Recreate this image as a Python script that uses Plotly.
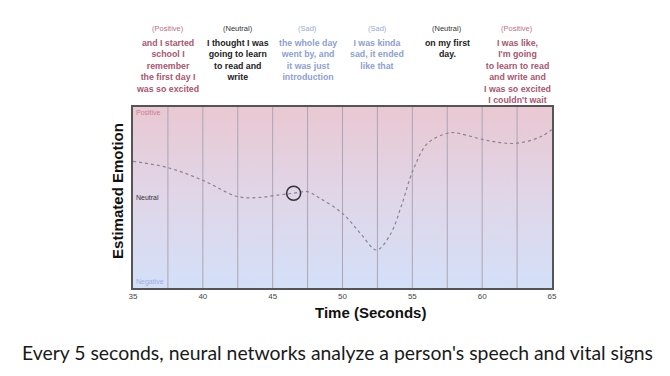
import plotly.graph_objects as go

# Curve data (seconds, estimated emotion: -1 negative .. 0 neutral .. 1 positive)
time_s = [35.0, 37.5, 40.0, 42.5, 44.0, 45.5, 46.5, 47.5, 48.4, 50.0, 51.3, 52.45,
          53.45, 54.2, 55.05, 56.1, 57.5, 58.0, 60.0, 61.35, 62.5, 64.2, 65.4]
emotion = [0.40, 0.33, 0.19, 0.01, 0.0, 0.03, 0.047, 0.064, -0.01, -0.175, -0.40, -0.58,
           -0.40, -0.10, 0.30, 0.60, 0.71, 0.717, 0.643, 0.606, 0.60, 0.672, 0.80]

highlight_time = [46.5]
highlight_emotion = [0.047]

# Speech segments
segment_centers = [37.5, 42.5, 47.5, 52.5, 57.5, 62.5]
segment_moods = ["Positive", "Neutral", "Sad", "Sad", "Neutral", "Positive"]
segment_texts = [
    "and I started<br>school I<br>remember<br>the first day I<br>was so excited",
    "I thought I was<br>going to learn<br>to read and<br>write",
    "the whole day<br>went by, and<br>it was just<br>introduction",
    "I was kinda<br>sad, it ended<br>like that",
    "on my first<br>day.",
    "I was like,<br>I'm going<br>to learn to read<br>and write and<br>I was so excited<br>I couldn't wait",
]
mood_colors = {"Positive": "#a9566f", "Neutral": "#222222", "Sad": "#8e9fd2"}
mood_label_colors = {"Positive": "#c0707f", "Neutral": "#333333", "Sad": "#9aaad8"}

x_ticks = [35, 40, 45, 50, 55, 60, 65]
grid_times = [37.5, 40, 42.5, 45, 47.5, 50, 52.5, 55, 57.5, 60, 62.5]

level_labels = ["Positive", "Neutral", "Negative"]
level_values = [1, 0, -1]
level_colors = ["#d07a93", "#333333", "#9fb0dd"]

x_min, x_max = 35, 65
y_min, y_max = -1, 1

fig = go.Figure()

# gradient background
fig.add_trace(go.Scatter(
    x=[x_min, x_max, x_max, x_min, x_min], y=[y_min, y_min, y_max, y_max, y_min],
    mode="lines", line=dict(width=0), fill="toself",
    fillgradient=dict(type="vertical", colorscale=[[0, "#d3e0f8"], [0.5, "#e0d6e8"], [1, "#e9c8d2"]]),
    hoverinfo="skip", showlegend=False,
))

# grid lines
for g in grid_times:
    fig.add_trace(go.Scatter(x=[g, g], y=[y_min, y_max], mode="lines",
                             line=dict(color="#aca4b4", width=1), hoverinfo="skip", showlegend=False))

# curve
n = len(time_s)
fig.add_trace(go.Scatter(
    x=time_s, y=emotion, mode="lines+markers",
    line=dict(color="#8a8292", width=1.2, dash="dot", shape="spline", smoothing=1.0),
    marker=dict(symbol="arrow", angleref="previous", size=[0] * (n - 1) + [7],
                color="#555555"),
    cliponaxis=False, showlegend=False,
))

# highlight circle
fig.add_trace(go.Scatter(
    x=highlight_time, y=highlight_emotion, mode="markers",
    marker=dict(symbol="circle-open", size=14, line=dict(color="#333333", width=1.6), color="#333333"),
    showlegend=False,
))

annotations = []
for c, mood, txt in zip(segment_centers, segment_moods, segment_texts):
    annotations.append(dict(x=c, xref="x", y=1.431, yref="paper", text="(" + mood + ")",
                            showarrow=False, font=dict(family="Liberation Sans", size=7.5,
                                                       color=mood_label_colors[mood]),
                            xanchor="center", yanchor="middle"))
    annotations.append(dict(x=c, xref="x", y=1.392, yref="paper", text="<b>" + txt + "</b>",
                            showarrow=False, align="center",
                            font=dict(family="Liberation Sans", size=8.8, color=mood_colors[mood]),
                            xanchor="center", yanchor="top"))

for lab, v, col in zip(level_labels, level_values, level_colors):
    ya = {1: "top", 0: "middle", -1: "bottom"}[v]
    annotations.append(dict(x=0.003, xref="paper", y=v, yref="y", text=lab, showarrow=False,
                            xanchor="left", yanchor=ya,
                            font=dict(family="Liberation Sans", size=7, color=col)))

annotations.append(dict(x=0.566, xref="paper", y=-0.138, yref="paper", text="<b>Time (Seconds)</b>",
                        showarrow=False, xanchor="center", yanchor="middle",
                        font=dict(family="Liberation Sans", size=15, color="#111111")))
annotations.append(dict(x=-0.036, xref="paper", y=0.536, yref="paper", text="<b>Estimated Emotion</b>",
                        showarrow=False, xanchor="center", yanchor="middle", textangle=-90,
                        font=dict(family="Liberation Sans", size=15, color="#111111")))
annotations.append(dict(x=0.487, xref="paper", y=-0.354, yref="paper",
                        text="Every 5 seconds, neural networks analyze a person's speech and vital signs",
                        showarrow=False, xanchor="center", yanchor="middle",
                        font=dict(family="Lato", size=19.4, color="#1a1a1a")))

fig.update_layout(
    width=670, height=376,
    margin=dict(l=125, r=126, t=99, b=96),
    paper_bgcolor="white", plot_bgcolor="white",
    annotations=annotations,
    xaxis=dict(range=[x_min, x_max], tickvals=x_ticks, ticks="", showgrid=False, zeroline=False,
               showline=True, linecolor="#555555", linewidth=1.5, mirror=True,
               tickfont=dict(family="Liberation Sans", size=8, color="#444444"), ticklen=0),
    yaxis=dict(range=[y_min, y_max], showticklabels=False, ticks="", showgrid=False, zeroline=False,
               showline=True, linecolor="#555555", linewidth=1.5, mirror=True),
)

fig.write_html("out.html")
